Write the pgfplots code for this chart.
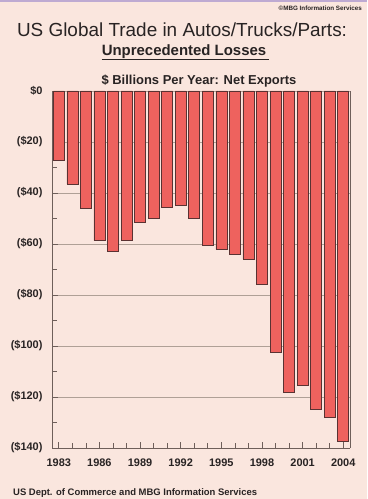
\documentclass[border=0pt]{standalone}
\usepackage{pgfplots}
\pgfplotsset{compat=1.18}
\usepackage{fontspec}
\setmainfont{Liberation Sans}
\definecolor{bg}{RGB}{250,230,222}
\definecolor{barfill}{RGB}{238,98,94}
\definecolor{barline}{RGB}{90,50,50}
\definecolor{gridc}{RGB}{175,160,150}
\definecolor{axc}{RGB}{110,95,90}
\definecolor{txt}{RGB}{40,35,35}
\definecolor{topband}{RGB}{190,170,210}
\begin{document}
\begin{tikzpicture}[x=1bp,y=1bp]
\fill[bg] (0,0) rectangle (367,499);
\fill[topband] (0,497) rectangle (367,499);
\node[anchor=base east,font=\fontsize{6.3}{6.3}\selectfont\bfseries,text=txt,inner sep=0] at (362,488) {\textcopyright MBG Information Services};
\node[anchor=base,font=\fontsize{19}{19}\selectfont,text=txt,inner sep=0] at (182,462) {US Global Trade in Autos/Trucks/Parts:};
\node[anchor=base,font=\fontsize{15}{15}\selectfont\bfseries,text=txt,inner sep=0] (sub) at (184,443) {Unprecedented Losses};
\draw[txt,line width=1.2bp] (sub.base west)++(0,-3.5) -- ++(167,0);
\node[anchor=base,font=\fontsize{13}{13}\selectfont\bfseries,text=txt,inner sep=0] at (199,414) {\$ Billions Per Year: Net Exports};
\node[anchor=base west,font=\fontsize{9.5}{9.5}\selectfont\bfseries,text=txt,inner sep=0] at (13,3) {US Dept. of Commerce and MBG Information Services};
\begin{axis}[
  at={(52bp,51bp)}, anchor=south west,
  scale only axis, width=298bp, height=357bp,
  xmin=1982.5, xmax=2004.5, ymin=-140, ymax=0,
  axis line style={axc,line width=0.8bp},
  axis x line*=bottom, axis y line*=left,
  xtick={1983,1986,...,2004},
  xticklabels={1983,1986,1989,1992,1995,1998,2001,2004},
  minor xtick={1983,...,2004},
  ytick={-140,-120,...,0},
  yticklabels={(\$140),(\$120),(\$100),(\$80),(\$60),(\$40),(\$20),\$0},
  minor ytick={-130,-110,...,-10},
  tick align=inside,
  major tick length=6bp, minor tick length=5bp,
  tick style={axc,line width=0.6bp},
  ymajorgrids, grid style={gridc,line width=0.6bp},
  x tick label style={font=\fontsize{11}{11}\selectfont\bfseries,text=txt,yshift=-7bp},
  y tick label style={font=\fontsize{11}{11}\selectfont\bfseries,text=txt,xshift=-6bp},
  clip=false,
]
\draw[axc,line width=0.8bp] (axis cs:2004.5,-140) -- (axis cs:2004.5,0);
\addplot[ybar, bar width=11bp, fill=barfill, draw=barline, line width=0.6bp] coordinates {
(1983,-27) (1984,-36.5) (1985,-46) (1986,-58.7) (1987,-63) (1988,-58.6)
(1989,-51.5) (1990,-50) (1991,-45.6) (1992,-44.8) (1993,-50) (1994,-60.7)
(1995,-62) (1996,-64) (1997,-66) (1998,-76) (1999,-102.5) (2000,-118)
(2001,-115.5) (2002,-125) (2003,-128) (2004,-137.5)
};
\end{axis}
\end{tikzpicture}
\end{document}
